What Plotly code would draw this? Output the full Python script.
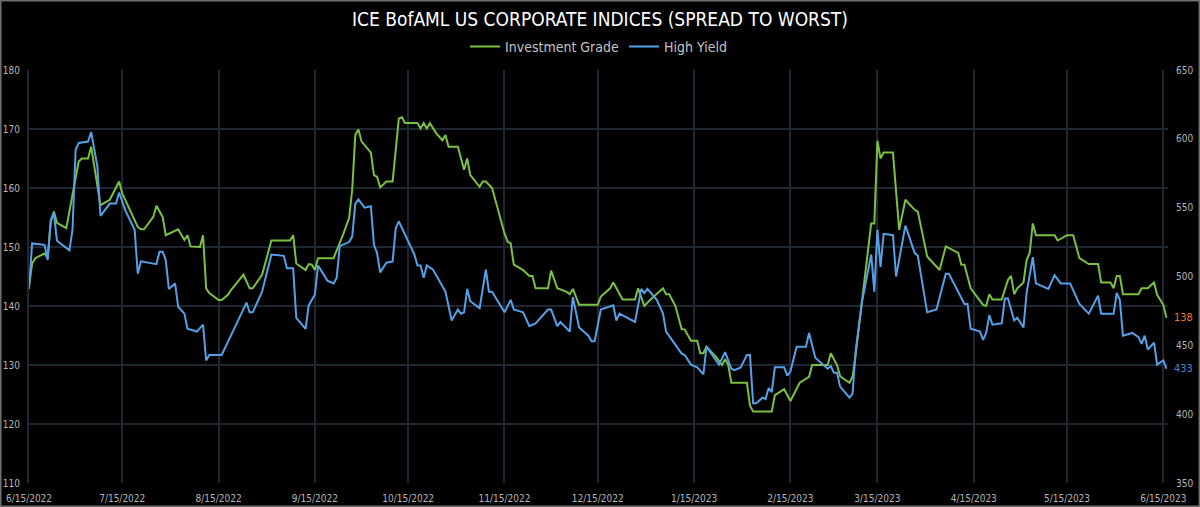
import pandas as pd
import plotly.graph_objects as go

START = "2022-06-15"

# Investment Grade (left axis, bp) : day offsets from START and values
ig_days = [0, 1, 2, 5, 6, 7, 8, 9, 12, 14, 16, 17, 19, 20, 23, 26, 29, 30, 32, 35, 36, 37, 40, 41, 43, 44, 48, 50, 51, 52, 55, 56, 57, 58, 61, 62, 64, 65, 69, 71, 72, 75, 78, 84, 85, 86, 89, 90, 91, 92, 93, 98, 101, 103, 104, 105, 106, 107, 110, 111, 112, 113, 115, 117, 119, 120, 121, 125, 126, 127, 128, 129, 131, 133, 134, 135, 138, 140, 141, 142, 145, 146, 147, 149, 153, 154, 155, 156, 159, 161, 162, 163, 167, 168, 170, 173, 174, 175, 177, 183, 184, 187, 188, 191, 195, 196, 198, 200, 204, 205, 206, 208, 210, 211, 213, 215, 216, 217, 218, 221, 223, 224, 225, 226, 231, 232, 233, 239, 240, 243, 245, 248, 251, 252, 257, 258, 260, 261, 264, 265, 266, 268, 271, 272, 273, 274, 275, 278, 280, 282, 285, 286, 289, 293, 295, 299, 300, 301, 303, 307, 308, 309, 310, 313, 315, 316, 317, 318, 320, 321, 322, 323, 324, 330, 331, 334, 336, 338, 341, 344, 345, 348, 349, 350, 351, 352, 357, 358, 360, 362, 363, 365, 366]
ig_vals = [143.3, 147.2, 148.1, 148.9, 148.1, 154.3, 156.0, 154.1, 153.2, 159.1, 164.5, 165.0, 165.0, 167.0, 157.1, 158.0, 161.1, 159.1, 156.8, 153.4, 153.0, 153.0, 155.1, 157.0, 155.1, 152.0, 153.0, 151.2, 152.0, 150.1, 150.0, 152.0, 143.0, 142.2, 141.0, 141.0, 141.9, 142.7, 145.3, 143.0, 143.0, 145.3, 151.1, 151.1, 152.0, 147.2, 146.1, 147.1, 147.0, 146.1, 148.1, 148.1, 152.0, 154.9, 159.7, 169.0, 169.9, 167.9, 166.0, 162.2, 161.9, 160.1, 161.1, 161.1, 171.8, 172.0, 171.0, 171.0, 170.1, 171.0, 170.1, 171.0, 169.3, 168.1, 169.0, 167.0, 167.0, 163.1, 165.0, 162.2, 160.2, 161.1, 161.1, 160.0, 152.3, 150.9, 150.6, 147.0, 146.1, 145.1, 145.1, 143.0, 143.0, 146.0, 143.0, 142.4, 142.0, 142.9, 140.2, 140.2, 141.6, 143.0, 144.0, 141.1, 141.1, 143.0, 140.0, 141.1, 143.0, 142.0, 142.0, 140.0, 136.1, 136.0, 134.1, 134.1, 132.0, 132.0, 133.1, 131.4, 130.0, 131.0, 130.0, 127.0, 127.0, 123.1, 122.1, 122.1, 124.9, 125.9, 123.9, 127.0, 128.0, 130.0, 130.0, 132.0, 130.0, 128.1, 127.0, 128.0, 131.8, 141.0, 154.0, 154.0, 168.0, 165.0, 166.0, 166.0, 152.9, 158.0, 156.3, 156.0, 148.4, 146.1, 150.1, 149.0, 147.0, 147.0, 143.0, 140.2, 140.0, 142.0, 141.1, 141.1, 144.4, 145.1, 142.0, 143.0, 144.0, 147.8, 149.0, 154.0, 152.0, 152.0, 151.1, 152.0, 152.0, 148.1, 147.1, 147.1, 144.0, 144.0, 143.0, 145.1, 145.1, 142.0, 142.0, 143.0, 143.0, 144.0, 141.9, 140.2, 138.0]

# High Yield (right axis, bp)
hy_days = [0, 1, 5, 6, 7, 8, 9, 13, 14, 15, 16, 19, 20, 22, 23, 26, 28, 29, 31, 34, 35, 36, 41, 42, 43, 44, 45, 47, 48, 50, 51, 54, 56, 57, 58, 62, 66, 70, 71, 72, 75, 78, 82, 83, 85, 86, 89, 90, 92, 93, 96, 98, 99, 100, 103, 104, 105, 106, 108, 110, 111, 112, 113, 115, 117, 118, 119, 122, 124, 125, 126, 127, 128, 130, 132, 134, 136, 138, 139, 140, 141, 142, 145, 147, 148, 149, 153, 155, 156, 159, 161, 163, 167, 168, 170, 171, 174, 175, 177, 180, 181, 182, 184, 188, 189, 190, 195, 197, 198, 199, 202, 204, 205, 210, 211, 213, 215, 217, 218, 222, 224, 226, 227, 229, 231, 232, 233, 234, 236, 237, 238, 239, 240, 243, 244, 245, 247, 250, 251, 253, 257, 258, 259, 260, 261, 264, 265, 266, 268, 271, 272, 273, 274, 275, 278, 279, 282, 285, 286, 289, 292, 295, 296, 299, 301, 302, 303, 306, 307, 308, 309, 310, 313, 314, 315, 317, 318, 320, 321, 323, 324, 328, 330, 332, 335, 338, 341, 344, 345, 349, 350, 351, 352, 355, 357, 358, 359, 360, 362, 363, 365, 366]
hy_vals = [491, 524, 523, 512, 541, 546, 526, 519, 534, 592, 597, 598, 605, 580, 544, 553, 553, 561, 548, 534, 502, 511, 509, 518, 518, 512, 491, 495, 478, 473, 462, 460, 465, 439, 443, 443, 462, 481, 474, 474, 489, 516, 515, 506, 506, 470, 462, 479, 487, 508, 497, 495, 499, 522, 525, 529, 553, 556, 550, 551, 523, 517, 503, 510, 511, 535, 540, 525, 516, 508, 508, 499, 508, 505, 497, 489, 468, 476, 473, 474, 491, 482, 477, 505, 489, 489, 474, 483, 476, 474, 464, 466, 476, 476, 464, 467, 460, 485, 463, 457, 453, 453, 476, 479, 468, 473, 467, 491, 488, 491, 483, 473, 460, 444, 443, 436, 434, 429, 449, 436, 445, 433, 432, 434, 443, 443, 408, 408, 412, 411, 419, 416, 434, 434, 428, 431, 449, 449, 459, 441, 433, 435, 430, 430, 420, 412, 415, 446, 481, 516, 489, 534, 507, 531, 530, 500, 537, 517, 515, 474, 476, 502, 502, 489, 480, 480, 462, 460, 454, 459, 472, 465, 466, 484, 484, 468, 470, 463, 488, 514, 495, 491, 501, 495, 495, 480, 473, 486, 473, 473, 488, 483, 457, 459, 456, 451, 457, 447, 452, 436, 439, 433]

tick_dates = ["2022-06-15", "2022-07-15", "2022-08-15", "2022-09-15", "2022-10-15", "2022-11-15",
              "2022-12-15", "2023-01-15", "2023-02-15", "2023-03-15", "2023-04-15", "2023-05-15", "2023-06-15"]

start = pd.Timestamp(START)
ig_x = [start + pd.Timedelta(days=d) for d in ig_days]
hy_x = [start + pd.Timedelta(days=d) for d in hy_days]

GREEN = "#7bc043"
BLUE = "#55a0e6"
GRID = "#1e2631"
TICK = "#b4b4b4"
FONT = "DejaVu Sans Condensed, Roboto, sans-serif"

fig = go.Figure()
fig.add_trace(go.Scatter(x=ig_x, y=ig_vals, name="Investment Grade", mode="lines",
                         line=dict(color=GREEN, width=2), yaxis="y"))
fig.add_trace(go.Scatter(x=hy_x, y=hy_vals, name="High Yield", mode="lines",
                         line=dict(color=BLUE, width=2), yaxis="y2"))

fig.add_annotation(x=1, xref="paper", y=ig_vals[-1], yref="y", text=f"{ig_vals[-1]:.0f}",
                   showarrow=False, xanchor="left", xshift=4,
                   font=dict(color="#e8782a", size=11, family=FONT))
fig.add_annotation(x=1, xref="paper", y=hy_vals[-1], yref="y2", text=f"{hy_vals[-1]:.0f}",
                   showarrow=False, xanchor="left", xshift=4,
                   font=dict(color="#4a86d4", size=11, family=FONT))

# thin frame around the whole image
fig.add_shape(type="rect", xref="paper", yref="paper",
              x0=-0.0250, x1=1.0277, y0=-0.0569, y1=1.1683,
              line=dict(color="#6e6e6e", width=2), layer="above")

fig.update_layout(
    width=1200, height=507,
    paper_bgcolor="#000000", plot_bgcolor="#000000",
    margin=dict(l=29, r=32, t=70, b=24, autoexpand=False),
    title=dict(text="ICE BofAML US CORPORATE INDICES (SPREAD TO WORST)", x=0.5, xanchor="center",
               y=0.962, yanchor="middle", font=dict(color="#ffffff", size=19, family=FONT)),
    legend=dict(orientation="h", x=0.5, xanchor="center", y=1.056, yanchor="middle",
                font=dict(color="#c4c4c4", size=14, family=FONT), bgcolor="rgba(0,0,0,0)",
                itemwidth=30),
    showlegend=True,
    xaxis=dict(type="date", range=["2022-06-15", "2023-06-16 12:00"], tickvals=tick_dates,
               tickformat="%-m/%-d/%Y", showgrid=True, gridcolor=GRID, gridwidth=2,
               tickfont=dict(color=TICK, size=10, family=FONT), zeroline=False,
               showline=False, ticks="", ticklabelstandoff=8, automargin=False),
    yaxis=dict(range=[110, 180], dtick=10, showgrid=True, gridcolor=GRID, gridwidth=2,
               tickfont=dict(color=TICK, size=10, family=FONT), zeroline=False, ticks="",
               showline=True, linecolor=GRID, linewidth=2, ticklabelstandoff=5, automargin=False),
    yaxis2=dict(range=[350, 650], dtick=50, overlaying="y", side="right", showgrid=False,
                tickfont=dict(color=TICK, size=10, family=FONT), zeroline=False, ticks="",
                ticklabelstandoff=7, automargin=False),
)

fig.write_html("out.html")
